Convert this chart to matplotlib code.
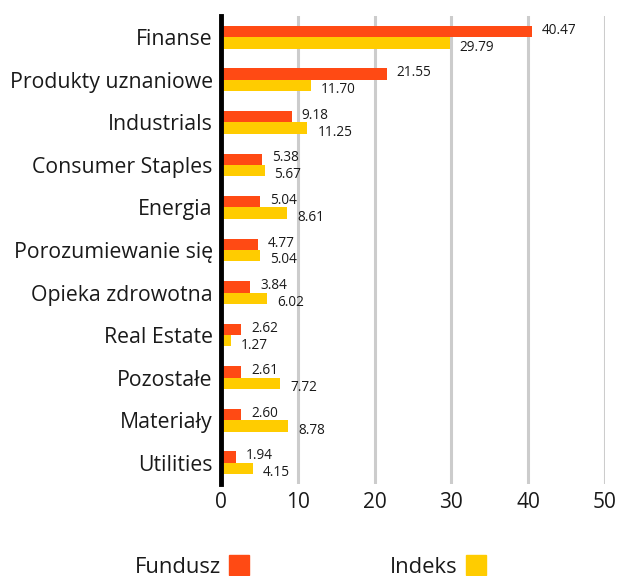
import matplotlib
matplotlib.use("Agg")
import matplotlib.pyplot as plt
from matplotlib.patches import Rectangle

categories = ["Finanse", "Produkty uznaniowe", "Industrials", "Consumer Staples",
              "Energia", "Porozumiewanie się", "Opieka zdrowotna", "Real Estate",
              "Pozostałe", "Materiały", "Utilities"]
fundusz = [40.47, 21.55, 9.18, 5.38, 5.04, 4.77, 3.84, 2.62, 2.61, 2.60, 1.94]
indeks = [29.79, 11.70, 11.25, 5.67, 8.61, 5.04, 6.02, 1.27, 7.72, 8.78, 4.15]
xticks = [0, 10, 20, 30, 40, 50]

RED = "#FF4A14"
YEL = "#FFCC00"
TXT = "#1a1a1a"

plt.rcParams['font.family'] = ['Open Sans', 'DejaVu Sans']

W, H = 619, 576
fig = plt.figure(figsize=(W / 100, H / 100), dpi=100)
ax = fig.add_axes([221 / W, 1 - 484 / H, 384 / W, 468 / H])

n = len(categories)
ys = list(range(n))
h = 0.267
for i in ys:
    ax.barh(i - h/2, fundusz[i], height=h, color=RED, zorder=3)
    ax.barh(i + h/2, indeks[i], height=h, color=YEL, zorder=3)
    ax.text(fundusz[i] + 1.3, i - h/2 - 0.03, f"{fundusz[i]:.2f}", va="center",
            ha="left", fontsize=9.8, color=TXT)
    ax.text(indeks[i] + 1.3, i + h/2 + 0.1, f"{indeks[i]:.2f}", va="center",
            ha="left", fontsize=9.8, color=TXT)

ax.set_ylim(n - 0.5, -0.5)
ax.set_xlim(0, 50)
ax.set_yticks(ys)
ax.set_yticklabels(categories, fontsize=15.3, color=TXT)
ax.set_xticks(xticks)
ax.set_xticklabels([str(t) for t in xticks], fontsize=15, color=TXT)
ax.tick_params(axis="both", length=0)
ax.tick_params(axis="x", pad=6)
ax.tick_params(axis="y", pad=6)
for s in ["top", "right", "bottom"]:
    ax.spines[s].set_visible(False)
ax.spines["left"].set_linewidth(3.5)
ax.spines["left"].set_color("black")
ax.spines["left"].set_zorder(5)
ax.xaxis.grid(True, color="#CCCCCC", linewidth=2.2, zorder=0)
ax.set_axisbelow(True)

# legend
fig.text(221 / W, 1 - 573 / H, "Fundusz", ha="right", va="baseline", fontsize=15.8, color=TXT)
fig.patches.append(Rectangle((229 / W, 1 - 575 / H), 20 / W, 20 / H, transform=fig.transFigure,
                             color=RED, figure=fig))
fig.text(458 / W, 1 - 573 / H, "Indeks", ha="right", va="baseline", fontsize=15.8, color=TXT)
fig.patches.append(Rectangle((466 / W, 1 - 575 / H), 20 / W, 20 / H, transform=fig.transFigure,
                             color=YEL, figure=fig))

fig.savefig("out.png", dpi=100)
